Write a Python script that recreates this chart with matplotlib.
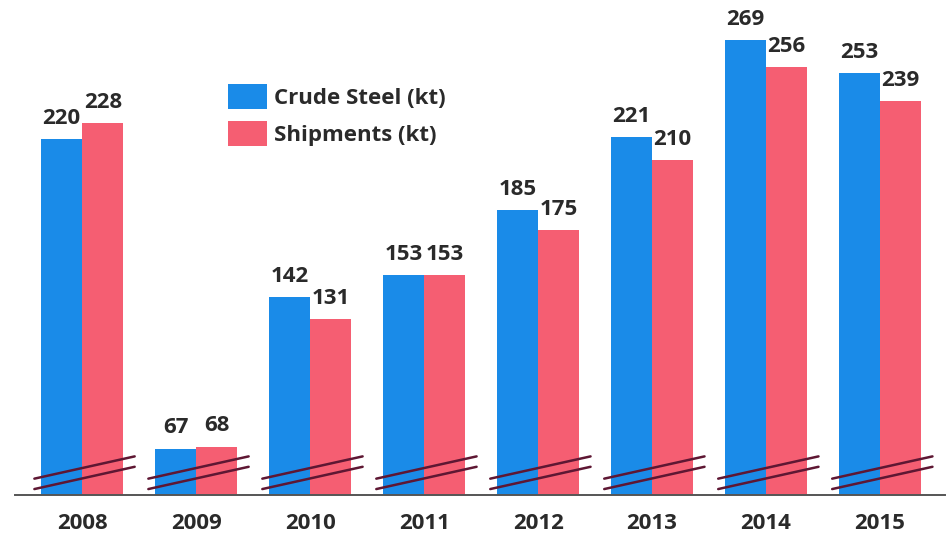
import matplotlib
matplotlib.use("Agg")
import matplotlib.pyplot as plt
import matplotlib.transforms as mtransforms
import numpy as np

years = ["2008", "2009", "2010", "2011", "2012", "2013", "2014", "2015"]
crude_steel = [220, 67, 142, 153, 185, 221, 269, 253]
shipments = [228, 68, 131, 153, 175, 210, 256, 239]

blue = "#1a8be8"
red = "#f55e72"
text_col = "#2a2a2a"

plt.rcParams['font.family'] = ['Open Sans', 'DejaVu Sans']

fig = plt.figure(figsize=(9.49, 5.58), dpi=100)
ax = fig.add_axes([15/949, 63/558, 930/949, 495/558])

x = np.arange(len(years))
w = 0.36
ax.bar(x - w/2, crude_steel, w, color=blue, label="Crude Steel (kt)")
ax.bar(x + w/2, shipments, w, color=red, label="Shipments (kt)")

for xi, v in zip(x - w/2, crude_steel):
    ax.text(xi, v + 5, str(v), ha="center", va="bottom", fontsize=16,
            fontweight="bold", color=text_col)
for xi, v in zip(x + w/2, shipments):
    ax.text(xi, v + 5, str(v), ha="center", va="bottom", fontsize=16,
            fontweight="bold", color=text_col)

# axis break marks across each group (broken value axis)
trans = mtransforms.blended_transform_factory(ax.transData, ax.transAxes)
for xi in x:
    xs = [xi - w - 0.06, xi + w + 0.1]
    for off in (0.0, 0.021):
        ax.plot(xs, [0.012 + off, 0.057 + off], color="#5e1733", lw=1.8,
                solid_capstyle="round", transform=trans, zorder=3)

ax.set_xlim(-0.59, 7.57)
ax.set_ylim(44, 289)
ax.set_xticks(x)
ax.set_xticklabels(years, fontsize=16, fontweight="bold", color=text_col)
ax.tick_params(axis="x", length=0, pad=13)
ax.set_yticks([])
for s in ["top", "right", "left"]:
    ax.spines[s].set_visible(False)
ax.spines["bottom"].set_color("#555555")
ax.spines["bottom"].set_linewidth(1.4)

leg = fig.legend(loc="upper left", bbox_to_anchor=(228/949, 1 - 84/558),
                 frameon=False, fontsize=16, handlelength=1.75, handleheight=1.35,
                 labelspacing=0.55, handletextpad=0.3, borderpad=0,
                 borderaxespad=0)
for t in leg.get_texts():
    t.set_fontweight("bold")
    t.set_color(text_col)

fig.savefig("out.png", dpi=100)
